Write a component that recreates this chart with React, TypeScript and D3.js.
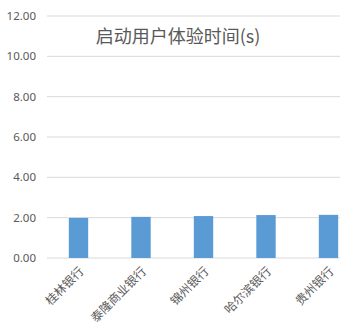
import React from "react";
import * as d3 from "d3";

const categories = ["桂林银行", "泰隆商业银行", "锦州银行", "哈尔滨银行", "贵州银行"];
const values = [1.99, 2.04, 2.08, 2.13, 2.14];
const yTicks = [0, 2, 4, 6, 8, 10, 12];
const title = "启动用户体验时间(s)";

export default function App() {
  const W = 340, H = 329;
  const x = d3.scaleBand<string>().domain(categories).range([47.25, 359.75]).paddingInner(0.69).paddingOuter(0.345);
  const y = d3.scaleLinear().domain([0, 12]).range([258, 16]);
  const cjk = '"Noto Sans CJK SC", "Microsoft YaHei", sans-serif';
  return (
    <svg width={W} height={H} style={{ position: "absolute", left: 0, top: 0, background: "#fff" }}>
      <rect width={W} height={H} fill="#fff" />
      {yTicks.map((t) => (
        <g key={t}>
          <line x1={47} x2={340} y1={y(t)} y2={y(t)} stroke="#d9d9d9" strokeWidth={1} />
          <text x={36} y={y(t)} dy="0.35em" textAnchor="end" fontSize={11.5} fill="#595959" fontFamily='"Noto Sans", "Liberation Sans", sans-serif'>
            {d3.format(".2f")(t)}
          </text>
        </g>
      ))}
      {categories.map((c, i) => (
        <rect key={c} x={x(c)!} width={x.bandwidth()} y={y(values[i])} height={y(0) - y(values[i])} fill="#5b9bd5" />
      ))}
      {categories.map((c) => {
        const cx = x(c)! + x.bandwidth() / 2;
        return (
          <text key={c} transform={`translate(${cx + 3},${269}) rotate(-45)`} textAnchor="end" dy="0.35em" fontSize={12} fill="#595959" fontFamily={cjk}>
            {c}
          </text>
        );
      })}
      <text x={178} y={37} textAnchor="middle" dy="0.35em" fontSize={18} fill="#595959" fontFamily={cjk}>
        {title}
      </text>
    </svg>
  );
}
